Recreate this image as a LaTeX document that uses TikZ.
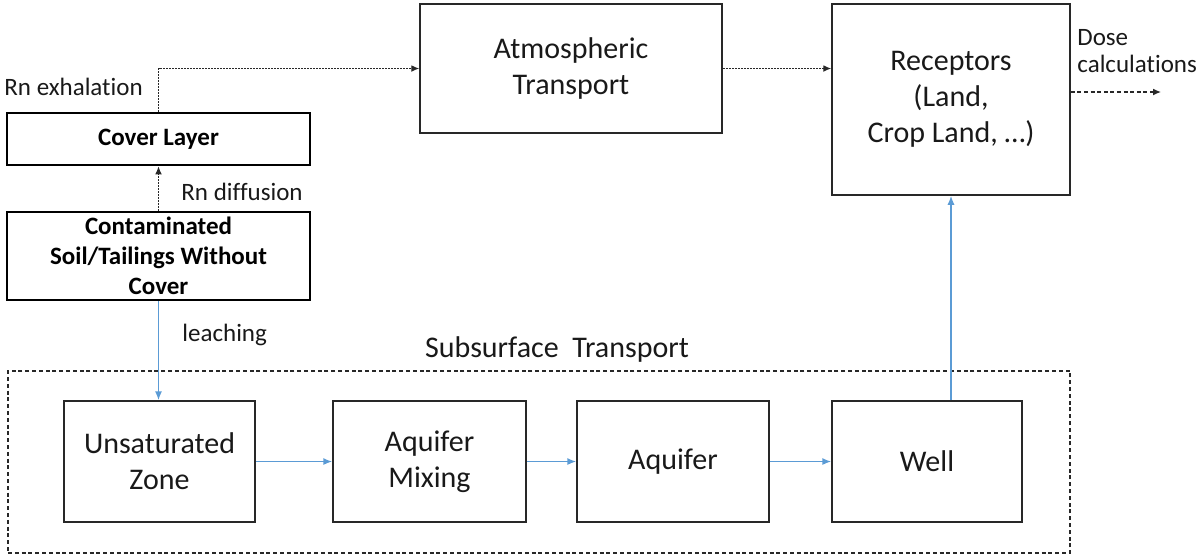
\documentclass[tikz,border=0pt]{standalone}
\usepackage{fontspec}
\setmainfont{Carlito}[Ligatures=NoCommon]
\usetikzlibrary{arrows.meta}
\definecolor{flowblue}{RGB}{91,155,213}
\definecolor{inkgray}{RGB}{40,40,40}
\begin{document}
\begin{tikzpicture}[x=0.5pt,y=-0.5pt,
  box/.style={draw=inkgray, line width=0.75pt, inner sep=0pt, align=center,
    text=black!90, font=\fontsize{15}{18}\selectfont},
  thickbox/.style={draw=black, line width=1.3pt, inner sep=0pt, align=center,
    minimum width=151.5pt, font=\bfseries\fontsize{12.5}{15}\selectfont},
  lbl/.style={inner sep=0pt, text=black!90, font=\fontsize{12.5}{15}\selectfont},
  dotarrow/.style={inkgray, line width=0.6pt, dash pattern=on 0.9pt off 0.6pt,
    -{Latex[length=4pt,width=3.4pt]}},
  dasharrow/.style={inkgray, line width=0.6pt, dash pattern=on 2pt off 1.3pt,
    -{Latex[length=4pt,width=3.4pt]}},
  bluearrow/.style={flowblue, line width=0.8pt, -{Latex[length=4.5pt,width=3.6pt]}},
  groupbox/.style={draw=inkgray, line width=0.6pt, dash pattern=on 2pt off 1.4pt,
    inner sep=0pt},
]
\useasboundingbox (0,0) rectangle (1203,554);

% source terms on the left
\node[thickbox, minimum height=26pt] (cover) at (158.5,139) {Cover Layer};
\node[thickbox, minimum height=44pt] (contam) at (158.5,256)
  {Contaminated\\Soil/Tailings Without\\Cover};

% atmospheric pathway and receptors
\node[box, minimum width=151pt, minimum height=64.5pt] (atm) at (571,68.5)
  {Atmospheric\\Transport};
\node[box, minimum width=119pt, minimum height=95.5pt] (rec) at (951,99.5)
  {Receptors\\(Land,\\Crop Land, …)};

% subsurface pathway
\node[groupbox, minimum width=531pt, minimum height=91pt] (subsurf) at (539,462) {};
\node[box, minimum width=95.5pt, minimum height=60.5pt] (unsat) at (159.5,461.5)
  {Unsaturated\\Zone};
\node[box, minimum width=96.5pt, minimum height=60.5pt] (mix) at (429.5,461.5)
  {Aquifer\\Mixing};
\node[box, minimum width=96pt, minimum height=60.5pt] (aq) at (673,461.5)
  {Aquifer};
\node[box, minimum width=95pt, minimum height=60.5pt] (well) at (927,461.5)
  {Well};

% labels
\node[lbl, anchor=base west] (lexh) at (4,95) {Rn exhalation};
\node[lbl, anchor=base west] (ldif) at (181,200) {Rn diffusion};
\node[lbl, anchor=base west] (lleach) at (182,341) {leaching};
\node[inner sep=0pt, anchor=base, text=black!90, font=\fontsize{15}{18}\selectfont]
  (lsub) at (557,357) {Subsurface\ \ Transport};
\node[lbl, anchor=north west, align=left, font=\fontsize{12.5}{13.5}\selectfont]
  (ldose) at (1077,29) {Dose\\calculations};
\coordinate (doseend) at (1161,92);

% gas pathway
\draw[dotarrow] (contam.north) -- (cover.south);
\draw[dotarrow] (cover.north) |- (atm.west);
\draw[dotarrow] (atm.east) -- (atm.east -| rec.west);
\draw[dasharrow] (rec.east |- doseend) -- (doseend);

% water pathway
\draw[bluearrow] (contam.south) -- (contam.south |- unsat.north);
\draw[bluearrow] (unsat.east) -- (mix.west);
\draw[bluearrow] (mix.east) -- (aq.west);
\draw[bluearrow] (aq.east) -- (well.west);
\draw[bluearrow] (well.north -| rec.south) -- (rec.south);
\end{tikzpicture}
\end{document}
